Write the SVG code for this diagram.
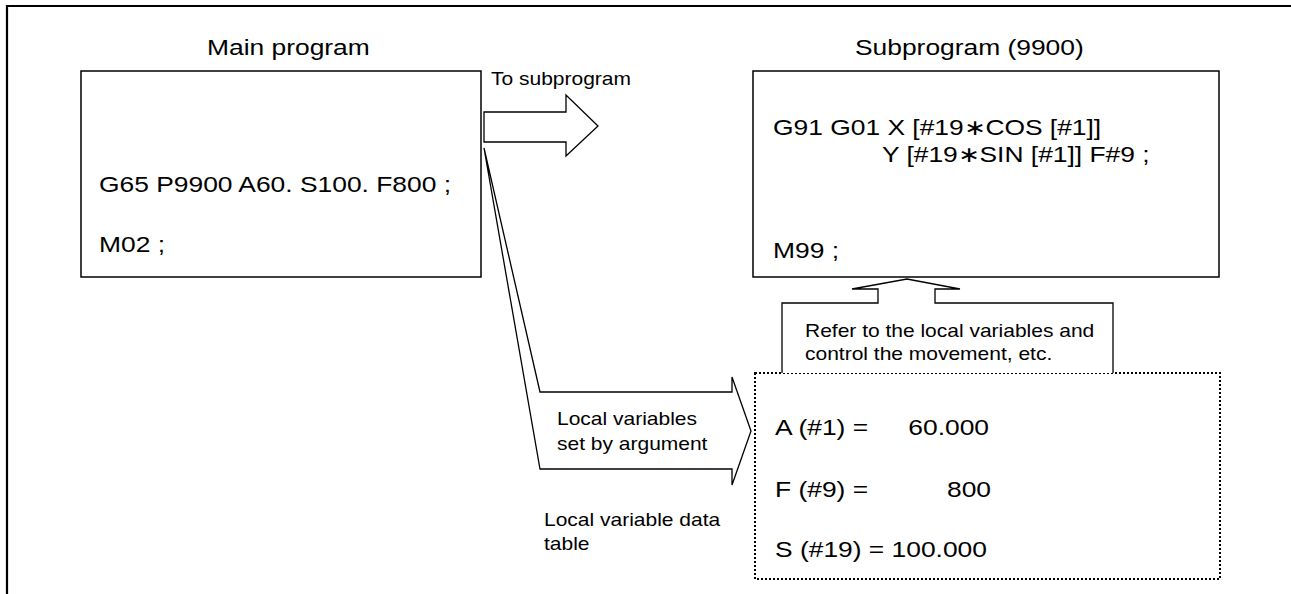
<svg xmlns="http://www.w3.org/2000/svg" width="1291" height="594" viewBox="0 0 1291 594">
<style>
text{font-family:"Liberation Sans",Arial,sans-serif;fill:#000}
.b{font-size:22px}
.s{font-size:17.5px}
.box{fill:#fff;stroke:#000;stroke-width:1.5}
.arr{fill:#fff;stroke:#000;stroke-width:1.3;stroke-linejoin:miter}
.dot{fill:#fff;stroke:#000;stroke-width:2;stroke-dasharray:2 2}
</style>
<rect width="1291" height="594" fill="#fff"/>
<path d="M7,594 V6 H1291" fill="none" stroke="#000" stroke-width="2.2"/>

<g id="main-program">
<text class="b" transform="translate(207,55) scale(1.2,1)">Main program</text>
<rect class="box" x="81" y="71" width="400" height="206"/>
<text class="b" transform="translate(99,192) scale(1.2,1)">G65 P9900 A60. S100. F800 ;</text>
<text class="b" transform="translate(99,252) scale(1.2,1)">M02 ;</text>
</g>

<g id="subprogram">
<text class="b" transform="translate(855,55) scale(1.2,1)">Subprogram (9900)</text>
<rect class="box" x="753" y="71" width="466" height="206"/>
<text class="b" transform="translate(773,135) scale(1.2,1)">G91 G01 X [#19∗COS [#1]]</text>
<text class="b" transform="translate(882,162) scale(1.2,1)">Y [#19∗SIN [#1]] F#9 ;</text>
<text class="b" transform="translate(773,258) scale(1.2,1)">M99 ;</text>
</g>

<g id="data-table">
<rect class="dot" x="755" y="373" width="465" height="206"/>
<text class="b" transform="translate(775,435) scale(1.2,1)">A (#1) =</text>
<text class="b" text-anchor="end" transform="translate(989,435) scale(1.2,1)">60.000</text>
<text class="b" transform="translate(775,497) scale(1.2,1)">F (#9) =</text>
<text class="b" text-anchor="end" transform="translate(991,497) scale(1.2,1)">800</text>
<text class="b" transform="translate(775,557) scale(1.2,1)">S (#19) = 100.000</text>
</g>

<g id="connectors">
<path class="arr" d="M484,112 H566 V95 L598,126 L566,156 V142 H484 Z"/>
<path class="arr" d="M484,148 L540,392 H732 V377 L751,431 L732,485 V469 H540 Z"/>
<path class="arr" d="M782,373 V303 H878 V289 H852 L907,279 L960,289 H935 V303 H1113 V373"/>
</g>

<g id="label-to-subprogram">
<text class="s" transform="translate(491,85) scale(1.2,1)">To subprogram</text>
</g>
<g id="label-local-variables">
<text class="s" transform="translate(557,425) scale(1.2,1)">Local variables</text>
<text class="s" transform="translate(557,450) scale(1.2,1)">set by argument</text>
</g>
<g id="label-data-table">
<text class="s" transform="translate(544,526) scale(1.2,1)">Local variable data</text>
<text class="s" transform="translate(544,550) scale(1.2,1)">table</text>
</g>
<g id="label-refer">
<text class="s" transform="translate(805,337) scale(1.2,1)">Refer to the local variables and</text>
<text class="s" transform="translate(805,360) scale(1.2,1)">control the movement, etc.</text>
</g>
</svg>
